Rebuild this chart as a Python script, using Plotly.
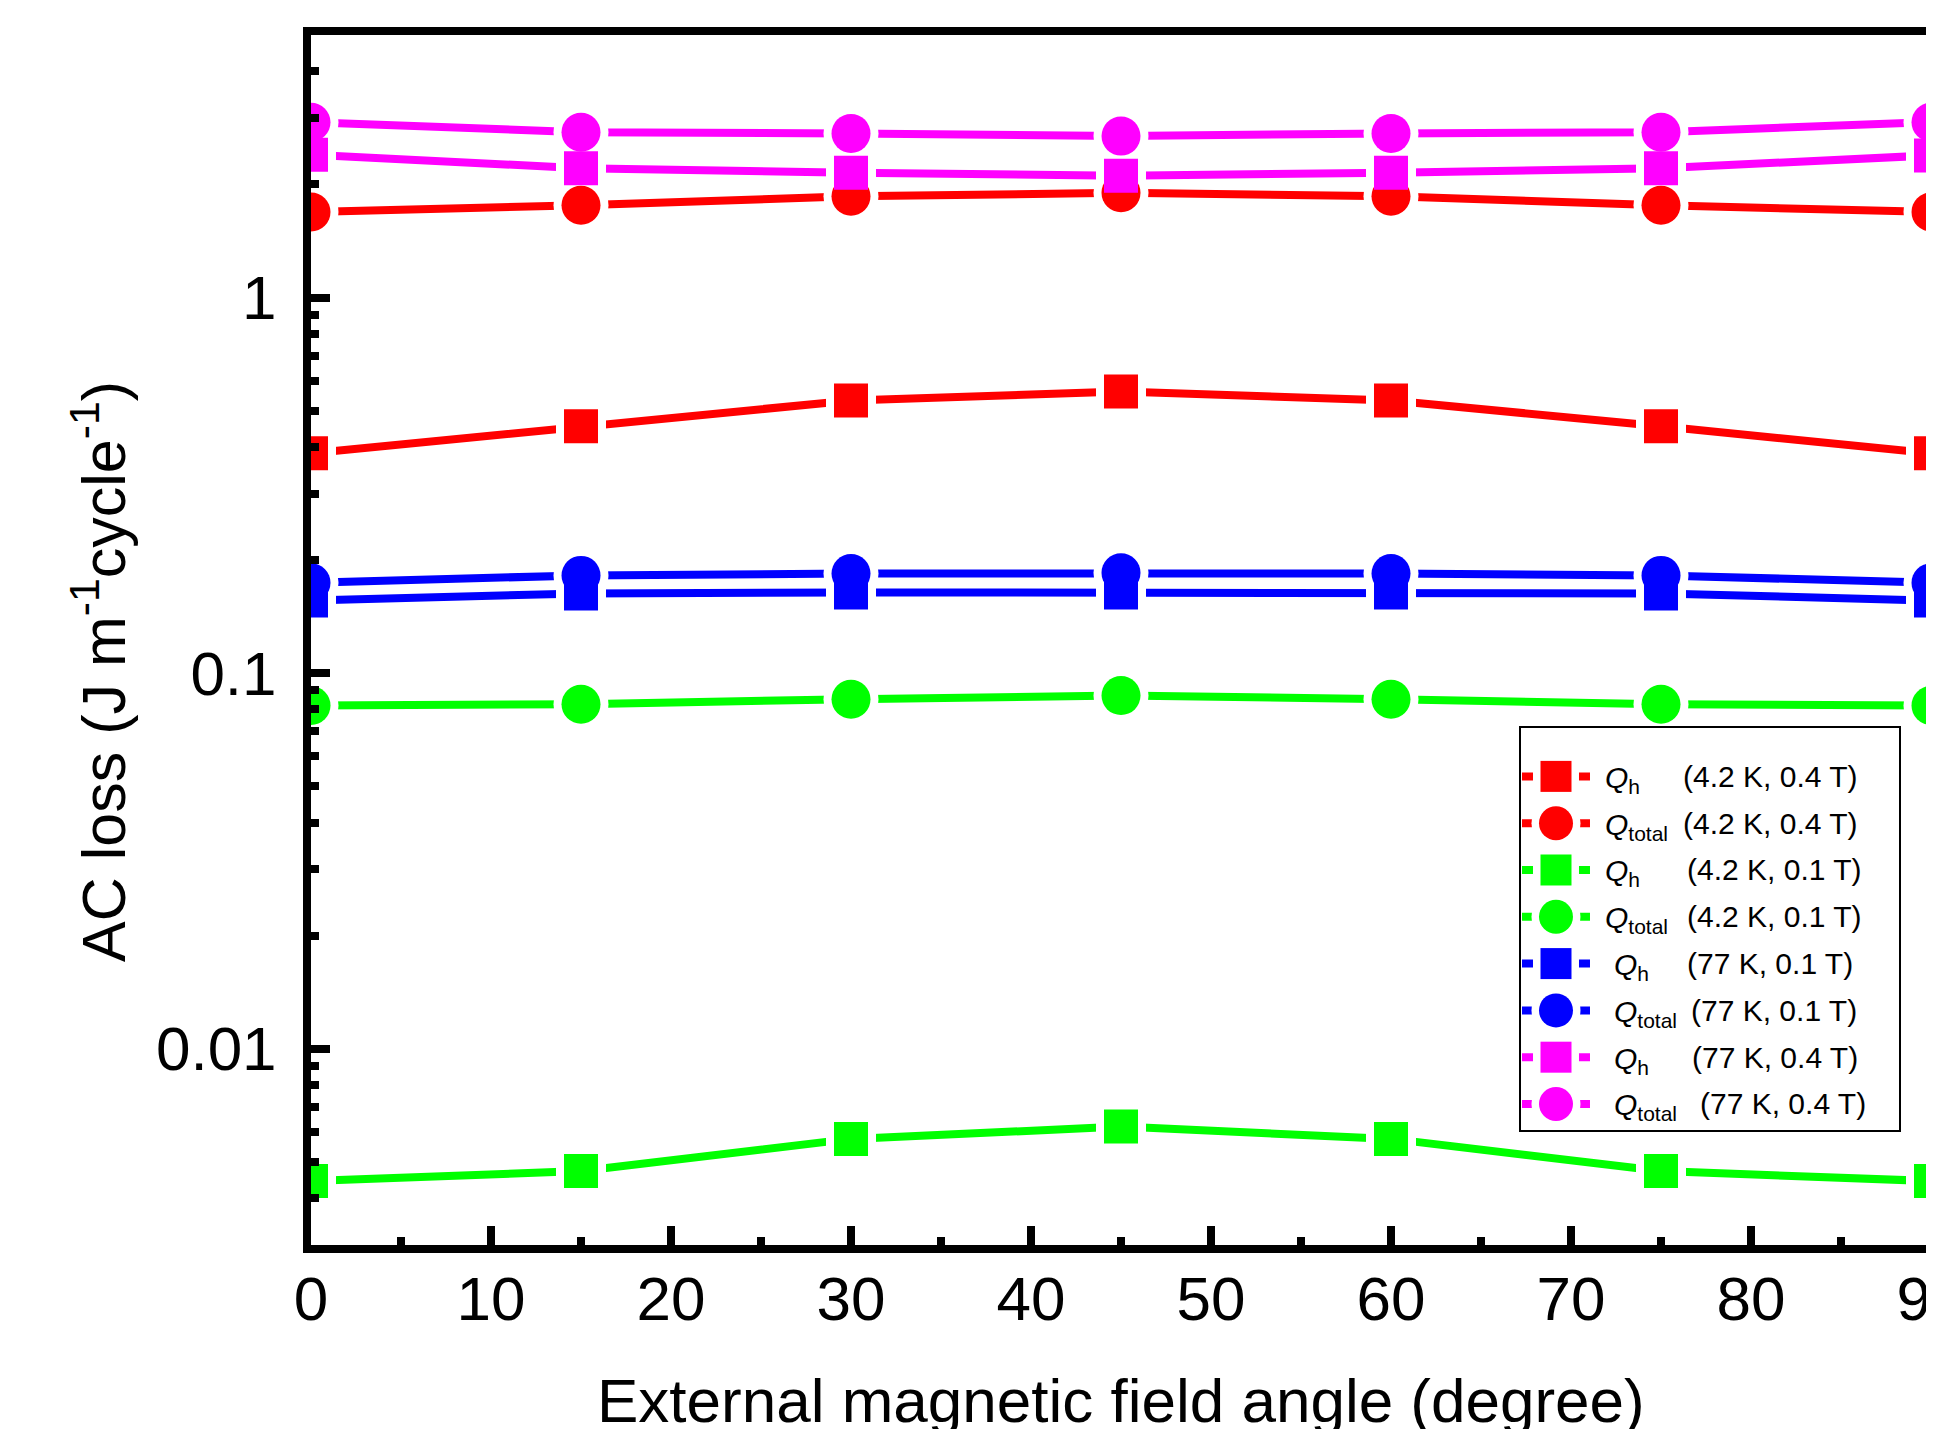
import math
import plotly.graph_objects as go

# ---------------- data ----------------
angles = [0, 15, 30, 45, 60, 75, 90]

qh_42K_04T   = [0.385, 0.454, 0.532, 0.562, 0.532, 0.454, 0.385]
qtot_42K_04T = [1.69, 1.76, 1.86, 1.90, 1.86, 1.76, 1.69]
qh_42K_01T   = [0.00444, 0.00472, 0.00575, 0.00620, 0.00575, 0.00472, 0.00444]
qtot_42K_01T = [0.0820, 0.0826, 0.0852, 0.0871, 0.0852, 0.0826, 0.0820]
qh_77K_01T   = [0.156, 0.163, 0.164, 0.164, 0.164, 0.163, 0.156]
qtot_77K_01T = [0.174, 0.182, 0.184, 0.185, 0.184, 0.182, 0.174]
qh_77K_04T   = [2.40, 2.21, 2.15, 2.11, 2.15, 2.21, 2.39]
qtot_77K_04T = [2.93, 2.755, 2.735, 2.69, 2.735, 2.755, 2.93]

series_values = [qh_42K_04T, qtot_42K_04T, qh_42K_01T, qtot_42K_01T,
                 qh_77K_01T, qtot_77K_01T, qh_77K_04T, qtot_77K_04T]
series_quantity = ["h", "total", "h", "total", "h", "total", "h", "total"]
series_condition = ["(4.2 K, 0.4 T)", "(4.2 K, 0.4 T)", "(4.2 K, 0.1 T)", "(4.2 K, 0.1 T)",
                     "(77 K, 0.1 T)", "(77 K, 0.1 T)", "(77 K, 0.4 T)", "(77 K, 0.4 T)"]

x_tick_values = list(range(0, 91, 10))
y_tick_values = [0.01, 0.1, 1]
y_tick_labels = ["0.01", "0.1", "1"]

x_title = "External magnetic field angle (degree)"
y_title = "AC loss (J m<sup>-1</sup>cycle<sup>-1</sup>)"

# ---------------- styles ----------------
colors = ["#FF0000", "#FF0000", "#00FF00", "#00FF00",
          "#0000FF", "#0000FF", "#FF00FF", "#FF00FF"]
symbols = ["square" if q == "h" else "circle" for q in series_quantity]
plot_size = {"square": 34, "circle": 39}
legend_size = {"square": 31, "circle": 34}
GAP = 8
LW = 8
FONT = "Liberation Sans, Arial, Helvetica, sans-serif"

fig = go.Figure()

# main plot: lines, white halos (gaps at the symbols), symbols
for vals, c in zip(series_values, colors):
    fig.add_trace(go.Scatter(x=angles, y=vals, mode="lines",
                             line=dict(color=c, width=LW), hoverinfo="skip",
                             showlegend=False))
for vals, s in zip(series_values, symbols):
    fig.add_trace(go.Scatter(x=angles, y=vals, mode="markers",
                             marker=dict(symbol=s, size=plot_size[s] + 2 * GAP, color="white",
                                         line=dict(width=0)),
                             hoverinfo="skip", showlegend=False))
for vals, c, s, q, cond in zip(series_values, colors, symbols, series_quantity, series_condition):
    fig.add_trace(go.Scatter(x=angles, y=vals, mode="markers",
                             name=f"Q{q} {cond}",
                             marker=dict(symbol=s, size=plot_size[s], color=c,
                                         line=dict(width=0)),
                             showlegend=False))

# ---------------- legend (drawn on an auxiliary axis) ----------------
rows = list(range(len(series_values)))
for r, c in zip(rows, colors):
    fig.add_trace(go.Scatter(x=[1, 69], y=[r, r], mode="lines", xaxis="x2", yaxis="y2",
                             line=dict(color=c, width=LW), hoverinfo="skip", showlegend=False))
for r, s in zip(rows, symbols):
    fig.add_trace(go.Scatter(x=[35], y=[r], mode="markers", xaxis="x2", yaxis="y2",
                             marker=dict(symbol=s, size=legend_size[s] + 15, color="white",
                                         line=dict(width=0)),
                             hoverinfo="skip", showlegend=False))
for r, s, c in zip(rows, symbols, colors):
    fig.add_trace(go.Scatter(x=[35], y=[r], mode="markers", xaxis="x2", yaxis="y2",
                             marker=dict(symbol=s, size=legend_size[s], color=c,
                                         line=dict(width=0)),
                             hoverinfo="skip", showlegend=False))

q_x = [82, 82, 82, 82, 91, 91, 91, 91]
cond_x = [160.5, 160, 164, 164.5, 164, 168, 169.5, 177]
annotations = []
for r, q, cond, qx, cx in zip(rows, series_quantity, series_condition, q_x, cond_x):
    annotations.append(dict(x=qx, y=r, xref="x2", yref="y2", xanchor="left", yanchor="middle",
                            text=f"<i>Q</i><sub>{q}</sub>", showarrow=False, yshift=-3,
                            font=dict(size=30, family=FONT, color="black")))
    annotations.append(dict(x=cx, y=r, xref="x2", yref="y2", xanchor="left", yanchor="middle",
                            text=cond, showarrow=False,
                            font=dict(size=30, family=FONT, color="black")))

# axis titles
annotations.append(dict(x=-0.1309, y=0.4744, xref="paper", yref="paper",
                        xanchor="center", yanchor="middle", textangle=-90,
                        text=y_title, showarrow=False,
                        font=dict(size=61, family=FONT, color="black")))
annotations.append(dict(x=0.5, y=-0.1283, xref="paper", yref="paper",
                        xanchor="center", yanchor="middle",
                        text=x_title, showarrow=False,
                        font=dict(size=62, family=FONT, color="black")))

minor_y = [m * 10 ** e for e in range(-3, 1) for m in range(2, 10)]
minor_y = [v for v in minor_y if 0.003 <= v <= 5] + [2, 3, 4, 5]

fig.update_layout(
    width=1926, height=1421,
    margin=dict(l=303, r=3, t=27, b=184, autoexpand=False),
    paper_bgcolor="white", plot_bgcolor="white",
    showlegend=False,
    font=dict(family=FONT, size=62, color="black"),
    annotations=annotations,
    xaxis=dict(range=[0, 90], tickvals=x_tick_values, ticks="inside", ticklen=19, tickwidth=8,
               tickcolor="black", showline=True, linewidth=8, linecolor="black", mirror=True,
               showgrid=False, zeroline=False, ticklabeloverflow="allow",
               tickfont=dict(size=62), ticklabelstandoff=-7,
               minor=dict(ticks="inside", ticklen=8, tickwidth=8, tickcolor="black",
                          tick0=0, dtick=5, showgrid=False)),
    yaxis=dict(type="log", range=[math.log10(0.003), math.log10(5)],
               tickvals=y_tick_values, ticktext=y_tick_labels,
               ticks="inside", ticklen=19, tickwidth=8, tickcolor="black",
               showline=True, linewidth=8, linecolor="black", mirror=True,
               showgrid=False, zeroline=False, tickfont=dict(size=62), ticklabelstandoff=14,
               minor=dict(ticks="inside", ticklen=8, tickwidth=8, tickcolor="black",
                          tickvals=minor_y, showgrid=False)),
    xaxis2=dict(domain=[0.74691, 0.98025], range=[0, 378], anchor="y2",
                showline=True, linewidth=2, linecolor="black", mirror=True,
                showticklabels=False, ticks="", showgrid=False, zeroline=False, fixedrange=True),
    yaxis2=dict(domain=[0.09504, 0.42727], range=[7.556, -1.034], anchor="x2",
                showline=True, linewidth=2, linecolor="black", mirror=True,
                showticklabels=False, ticks="", showgrid=False, zeroline=False, fixedrange=True),
)

fig.write_html("out.html")
